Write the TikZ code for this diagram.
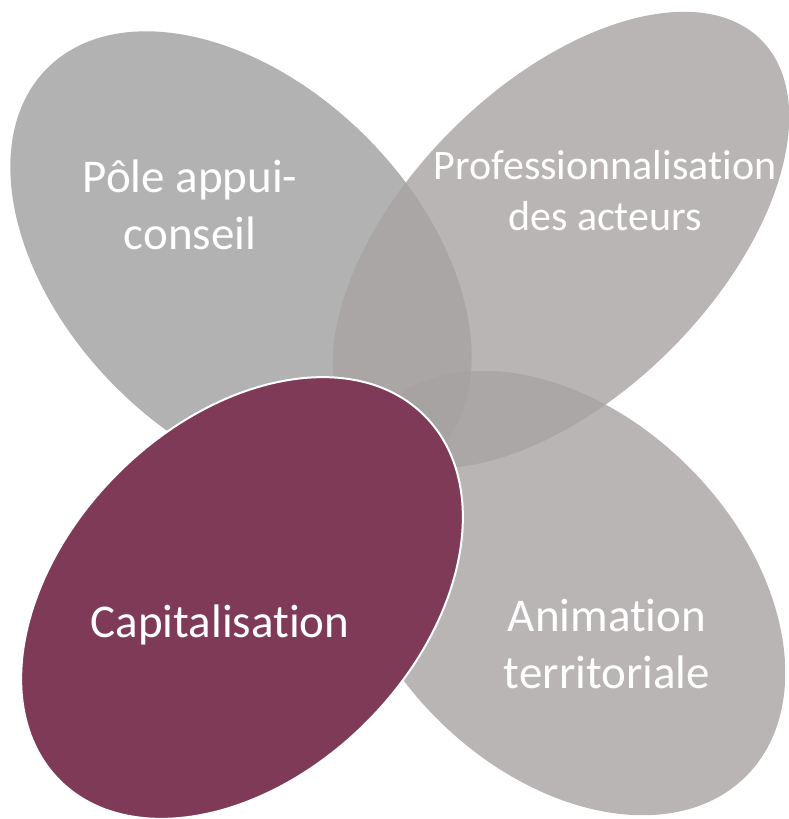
\documentclass[tikz,border=0pt]{standalone}
\usepackage{fontspec}
\setmainfont[Ligatures={NoCommon,NoContextual}]{Carlito}
\usetikzlibrary{shapes.geometric}
\definecolor{petalA}{HTML}{B2B2B2}
\definecolor{petalB}{HTML}{A7A3A2}
\definecolor{capmaroon}{HTML}{7F3A57}
\begin{document}
\begin{tikzpicture}[x=1bp,y=1bp,
  petal/.style={ellipse, inner sep=0pt, outer sep=0pt},
  lbl/.style={text=white, align=center, inner sep=0pt},
  bigfont/.style={font=\fontsize{47bp}{57bp}\selectfont},
  smallfont/.style={font=\fontsize{42bp}{51bp}\selectfont}]
\useasboundingbox (0,0) rectangle (789,819);
\node[petal, fill=petalA, minimum width=548bp, minimum height=354bp, rotate=-45] (e1) at (241,557) {};
\node[petal, fill=petalB, fill opacity=0.8, minimum width=566bp, minimum height=310bp, rotate=45] (e2) at (561,579) {};
\node[petal, fill=petalB, fill opacity=0.8, minimum width=518bp, minimum height=356bp, rotate=-45] (e3) at (563,226) {};
\node[petal, fill=capmaroon, draw=white, line width=2bp, minimum width=516bp, minimum height=352bp, rotate=45] (e4) at (242,221) {};
\node[lbl, bigfont] (t1) at (190,614.5) {Pôle appui-\\conseil};
\node[lbl, smallfont] (t2) at (605,628.5) {Professionnalisation\\des acteurs};
\node[lbl, bigfont] (t3) at (607,174.5) {Animation\\territoriale};
\node[lbl, bigfont, anchor=base] (t4) at (220,181) {Capitalisation};
\end{tikzpicture}
\end{document}
